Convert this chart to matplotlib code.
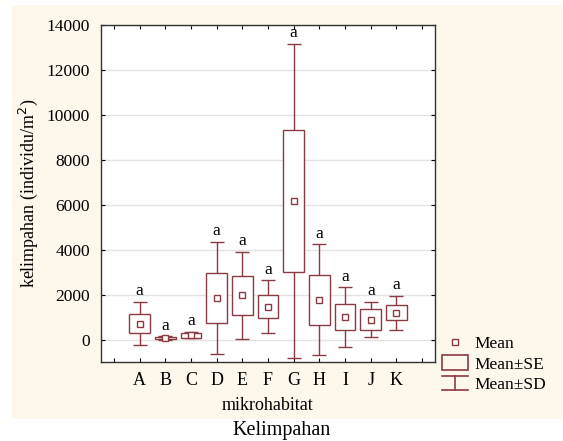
import matplotlib.pyplot as plt
from matplotlib.lines import Line2D
from matplotlib.patches import Patch, Rectangle
from matplotlib.legend_handler import HandlerBase

plt.rcParams['font.family'] = ['Liberation Serif', 'DejaVu Serif']

# data
habitat = ['A', 'B', 'C', 'D', 'E', 'F', 'G', 'H', 'I', 'J', 'K']
mean = [710, 70, 200, 1840, 1960, 1460, 6170, 1760, 1000, 890, 1190]
se = [440, 30, 110, 1110, 850, 500, 3150, 1120, 580, 450, 340]
sd = [950, 70, 150, 2500, 1930, 1170, 7000, 2470, 1320, 770, 750]
letters = ['a'] * len(habitat)

col = '#8a3b42'
cream = '#fef8ec'

fig = plt.figure(figsize=(5.63, 4.41), dpi=100)
fig.patch.set_facecolor('white')
fig.patches.append(Rectangle((12 / 563, 1 - 419 / 441), 551 / 563, 414 / 441,
                             transform=fig.transFigure, facecolor=cream,
                             edgecolor='none', zorder=-10))

ax = fig.add_axes([101 / 563, 1 - 362 / 441, 334 / 563, 337 / 441])
ax.set_facecolor('white')

x = list(range(1, len(habitat) + 1))

# whiskers (mean +- SD)
ax.errorbar(x, mean, yerr=sd, fmt='none', ecolor=col, elinewidth=1,
            capsize=5, capthick=1, zorder=2)
# boxes (mean +- SE)
ax.bar(x, [2 * s for s in se], bottom=[m - s for m, s in zip(mean, se)],
       width=0.8, facecolor='white', edgecolor=col, linewidth=1, zorder=3)
# means
ax.plot(x, mean, ls='none', marker='s', markersize=4, mfc='white',
        mec=col, mew=1, zorder=4)

for xi, m, s, t in zip(x, mean, sd, letters):
    ax.annotate(t, (xi, m + s), xytext=(0, 2), textcoords='offset points',
                ha='center', va='bottom', fontsize=12.5)

ax.set_xlim(-0.5, 12.5)
ax.set_ylim(-1000, 14000)
ax.set_xticks(range(0, 13))
ax.set_xticklabels([''] + habitat + [''], fontsize=13)
ax.set_yticks(range(0, 14001, 2000))
ax.tick_params(axis='y', labelsize=12.5, direction='in', length=3,
               left=True, right=True, pad=8)
ax.tick_params(axis='x', direction='in', length=3, top=True, bottom=True, pad=7)
ax.grid(axis='y', color='#e3e3e3', linewidth=1, zorder=0)
ax.set_axisbelow(True)
for sp in ax.spines.values():
    sp.set_color('#333333')
    sp.set_linewidth(1)

ax.set_xlabel('mikrohabitat', fontsize=13, labelpad=6)
ax.set_ylabel('kelimpahan (individu/m$^2$)', fontsize=13, labelpad=5)


class HandlerSD(HandlerBase):
    def create_artists(self, legend, orig_handle, xdescent, ydescent,
                       width, height, fontsize, trans):
        x0, y0 = -xdescent, -ydescent
        segs = [([x0, x0 + width], [y0 + height, y0 + height]),
                ([x0 + width / 2, x0 + width / 2], [y0, y0 + height]),
                ([x0, x0 + width], [y0, y0])]
        out = []
        for xs, ys in segs:
            ln = Line2D(xs, ys, color=col, linewidth=1.2)
            ln.set_transform(trans)
            out.append(ln)
        return out


h_mean = Line2D([], [], ls='none', marker='s', markersize=4, mfc='white',
                mec=col, mew=1)
h_se = Patch(facecolor='none', edgecolor=col, linewidth=1.2)
h_sd = object()
ax.legend([h_mean, h_se, h_sd], ['Mean', 'Mean±SE', 'Mean±SD'],
          handler_map={h_sd: HandlerSD()}, loc='upper left',
          bbox_to_anchor=(1.02, 0.08), frameon=False, fontsize=12.5,
          handlelength=1.5, handleheight=0.9, labelspacing=0.18,
          handletextpad=0.4, borderaxespad=0, borderpad=0)

fig.text(0.5, 1 - 430 / 441, 'Kelimpahan', ha='center', va='center',
         fontsize=14.5)

fig.savefig('out.png', dpi=100, facecolor=fig.get_facecolor())
